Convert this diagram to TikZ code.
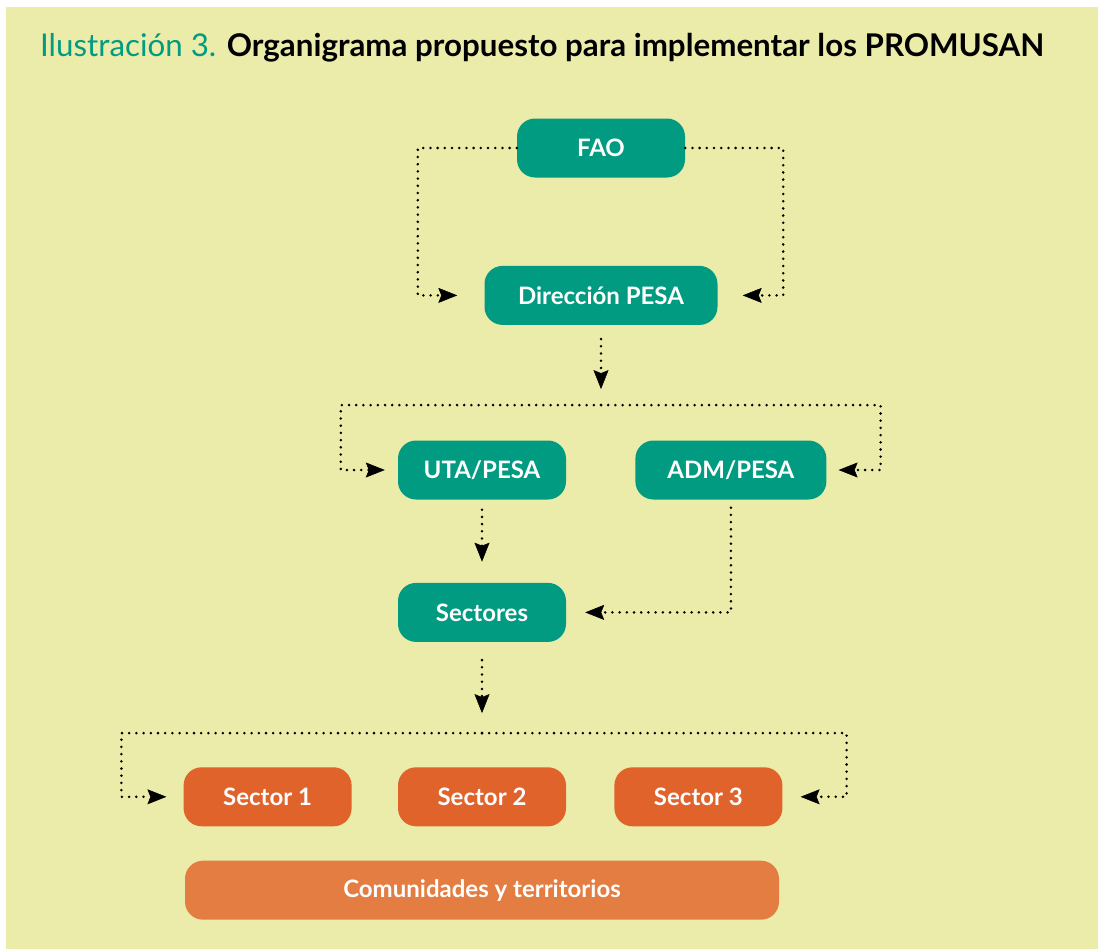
\documentclass[tikz,border=0pt]{standalone}
\usepackage{fontspec}
\setmainfont{Lato}
\usetikzlibrary{positioning,calc,arrows.meta}
\definecolor{pesagreen}{RGB}{0,155,129}
\definecolor{sectororange}{RGB}{224,99,44}
\definecolor{baseorange}{RGB}{228,125,66}
\definecolor{paper}{RGB}{235,236,170}

\begin{document}
\begin{tikzpicture}[
    unit/.style={fill=pesagreen, text=white, rounded corners=18pt, minimum width=168pt, minimum height=59pt, font=\fontsize{24}{28}\selectfont\bfseries},
    sector/.style={unit, fill=sectororange},
    link/.style={-{Stealth[length=19pt,width=15pt,inset=3pt,line width=0.5pt]}, line width=2.8pt, line cap=round, dash pattern=on 0pt off 7.2pt}
    ]
    \useasboundingbox (0,0) rectangle (1098pt,-950pt);
    \fill[paper] (6pt,-7pt) rectangle (1098pt,-949pt);
    \node[anchor=base west, inner sep=0pt, font=\fontsize{31.3}{36}\selectfont] (title) at (40pt,-57pt) {\textcolor{pesagreen}{Ilustración 3.} \textbf{Organigrama propuesto para implementar los PROMUSAN}};

    \node[unit] (fao) at (601pt,-148pt) {FAO};
    \node[unit, minimum width=233pt, below=88pt of fao] (direccion) {Dirección PESA};
    \node[unit] (uta) at (482pt,-470pt) {UTA/PESA};
    \node[unit, minimum width=191pt, right=69pt of uta] (adm) {ADM/PESA};
    \node[unit, below=83pt of uta] (sectores) {Sectores};
    \node[sector, below=125pt of sectores] (sector2) {Sector 2};
    \node[sector, left=46pt of sector2] (sector1) {Sector 1};
    \node[sector, right=48pt of sector2] (sector3) {Sector 3};
    \node[sector, fill=baseorange, minimum width=594pt, below=34pt of sector2] (comunidades) {Comunidades y territorios};

    \coordinate (split1) at ($(direccion.south)+(0,-80pt)$);
    \coordinate (split2) at ($(sectores.south)+(0,-91pt)$);

    \draw[link, shorten >=27pt] (fao.west) -- ++(-99pt,0) |- (direccion.west);
    \draw[link, shorten >=25pt] (fao.east) -- ++(98pt,0) |- (direccion.east);
    \draw[link, shorten <=14pt, shorten >=16pt] (direccion.south) -- (split1);
    \draw[link, shorten >=13pt] (split1) -| ([xshift=-57pt]uta.west) -- (uta.west);
    \draw[link, shorten >=12pt] (split1) -| ([xshift=54pt]adm.east) -- (adm.east);
    \draw[link, shorten <=10pt, shorten >=21pt] (uta.south) -- (sectores.north);
    \draw[link, shorten <=8pt, shorten >=19pt] (adm.south) |- (sectores.east);
    \draw[link, shorten <=18pt, shorten >=20pt] (sectores.south) -- (split2);
    \draw[link, shorten >=17pt] (split2) -| ([xshift=-62pt]sector1.west) -- (sector1.west);
    \draw[link, shorten >=18pt] (split2) -| ([xshift=64pt]sector3.east) -- (sector3.east);
\end{tikzpicture}
\end{document}
